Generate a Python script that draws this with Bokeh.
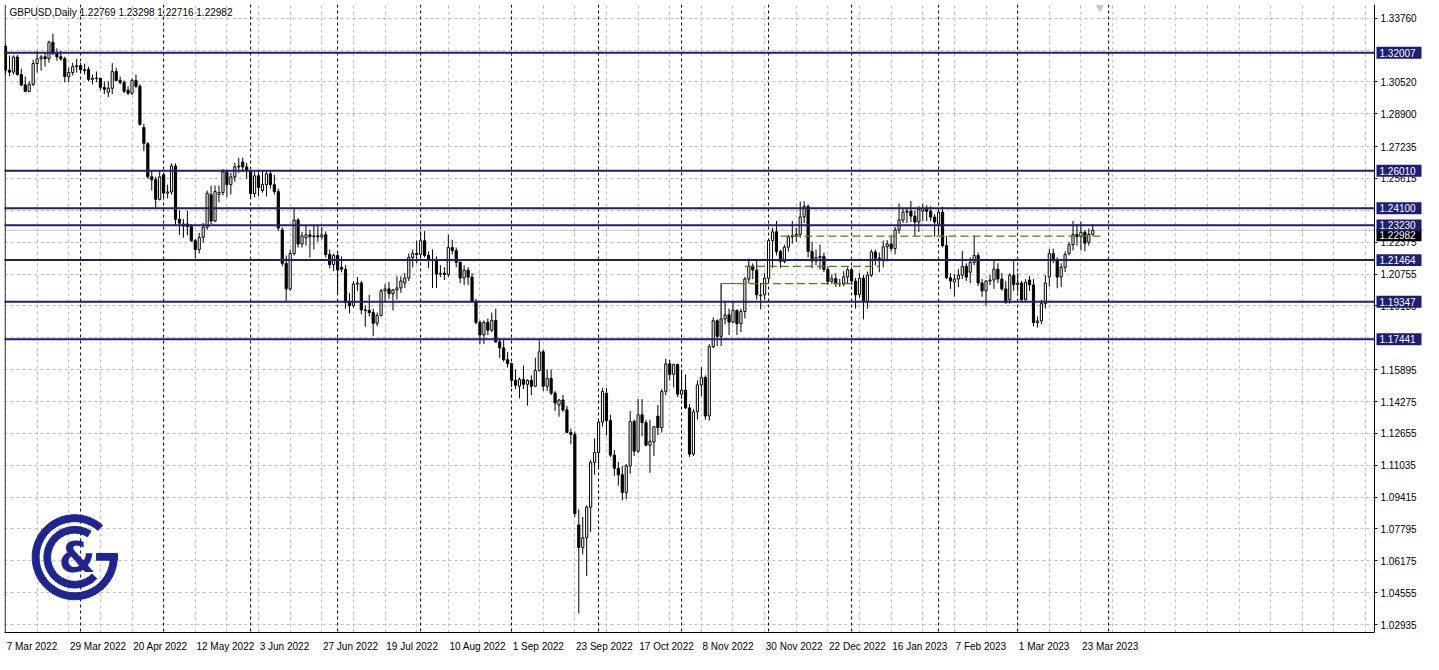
import math
from bokeh.plotting import figure
from bokeh.models import Range1d, FixedTicker, Span, Label, ColumnDataSource, NumeralTickFormatter
from bokeh.embed import file_html
from bokeh.resources import INLINE
from bokeh.core.properties import value

# ---------------- data (GBPUSD daily, 7 Mar 2022 .. 28 Mar 2023) ----------------
open_ = [
1.3234,1.3112,1.3102,1.3179,1.3090,1.3037,1.3004,1.3040,1.3146,1.3170,
1.3180,1.3170,1.3254,1.3196,1.3180,1.3170,1.3080,1.3100,1.3130,1.3135,
1.3110,1.3115,1.3065,1.3072,1.3070,1.3025,1.3000,1.3020,1.3105,1.3060,
1.3050,1.3010,1.2995,1.3060,1.3030,1.2820,1.2738,1.2570,1.2555,1.2455,
1.2580,1.2487,1.2493,1.2625,1.2354,1.2320,1.2330,1.2317,1.2245,1.2200,
1.2262,1.2314,1.2480,1.2345,1.2480,1.2490,1.2595,1.2530,1.2570,1.2620,
1.2645,1.2620,1.2600,1.2485,1.2575,1.2500,1.2530,1.2585,1.2530,1.2495,
1.2300,1.2130,1.2000,1.2180,1.2350,1.2228,1.2260,1.2275,1.2265,1.2270,
1.2265,1.2275,1.2175,1.2123,1.2170,1.2110,1.2100,1.1930,1.1915,1.2025,
1.2030,1.1893,1.1890,1.1880,1.1825,1.1865,1.1990,1.2000,1.1975,1.1995,
1.2005,1.2030,1.2055,1.2160,1.2180,1.2175,1.2245,1.2170,1.2145,1.2150,
1.2075,1.2080,1.2073,1.2210,1.2195,1.2135,1.2055,1.2095,1.2060,1.1937,
1.1830,1.1766,1.1830,1.1790,1.1840,1.1731,1.1700,1.1640,1.1620,1.1535,
1.1505,1.1540,1.1515,1.1535,1.1505,1.1585,1.1680,1.1505,1.1545,1.1470,
1.1410,1.1435,1.1385,1.1270,1.1260,1.0800,1.0685,1.0735,1.0890,1.1118,
1.1168,1.1323,1.1470,1.1330,1.1155,1.1088,1.1055,1.0965,1.1100,1.1326,
1.1175,1.1360,1.1320,1.1205,1.1222,1.1353,1.1294,1.1478,1.1619,1.1565,
1.1615,1.1465,1.1485,1.1395,1.1160,1.1375,1.1512,1.1550,1.1354,1.1706,
1.1838,1.1758,1.1848,1.1868,1.1831,1.1891,1.1823,1.1885,1.2050,1.2116,
1.2096,1.1965,1.1970,1.2054,1.2245,1.2290,1.2190,1.2140,1.2212,1.2265,
1.2270,1.2277,1.2366,1.2419,1.2190,1.2142,1.2159,1.2165,1.2099,1.2038,
1.2052,1.2027,1.2025,1.2061,1.2097,1.2040,1.1970,1.2055,1.1937,1.2070,
1.2188,1.2156,1.2150,1.2214,1.2228,1.2205,1.2300,1.2350,1.2390,1.2395,
1.2370,1.2340,1.2395,1.2410,1.2395,1.2365,1.2330,1.2390,1.2220,1.2056,
1.2035,1.2050,1.2070,1.2115,1.2085,1.2135,1.2170,1.2030,1.1990,1.2040,
1.2045,1.2100,1.2050,1.2000,1.1945,1.2069,1.2022,1.2030,1.1945,1.2045,
1.2020,1.1828,1.1837,1.1925,1.2060,1.2180,1.2150,1.2060,1.2110,1.2180,
1.2225,1.2277,1.2265,1.2288,1.2237,1.22769]

high = [
1.3243,1.3187,1.3187,1.3190,1.3120,1.3080,1.3055,1.3165,1.3210,1.3190,
1.3200,1.3262,1.3298,1.3223,1.3210,1.3180,1.3125,1.3150,1.3170,1.3150,
1.3145,1.3130,1.3090,1.3105,1.3075,1.3055,1.3055,1.3148,1.3125,1.3080,
1.3060,1.3030,1.3070,1.3090,1.3040,1.2840,1.2745,1.2600,1.2570,1.2600,
1.2590,1.2530,1.2638,1.2638,1.2400,1.2355,1.2398,1.2330,1.2255,1.2285,
1.2335,1.2500,1.2525,1.2525,1.2525,1.2610,1.2600,1.2590,1.2640,1.2667,
1.2667,1.2640,1.2605,1.2595,1.2600,1.2600,1.2600,1.2600,1.2580,1.2510,
1.2313,1.2170,1.2200,1.2406,1.2360,1.2290,1.2320,1.2300,1.2320,1.2325,
1.2315,1.2292,1.2200,1.2180,1.2185,1.2165,1.2120,1.1980,1.2040,1.2060,
1.2040,1.1915,1.1970,1.1900,1.1880,1.2000,1.2025,1.2035,1.2000,1.2065,
1.2065,1.2080,1.2180,1.2200,1.2245,1.2293,1.2294,1.2190,1.2200,1.2165,
1.2120,1.2110,1.2276,1.2250,1.2210,1.2140,1.2120,1.2110,1.2080,1.1950,
1.1840,1.1840,1.1850,1.1880,1.1900,1.1750,1.1740,1.1680,1.1625,1.1590,
1.1550,1.1610,1.1540,1.1560,1.1650,1.1738,1.1690,1.1590,1.1590,1.1480,
1.1440,1.1460,1.1405,1.1290,1.1275,1.0880,1.0840,1.0900,1.1130,1.1240,
1.1330,1.1496,1.1495,1.1360,1.1180,1.1120,1.1100,1.1110,1.1380,1.1335,
1.1440,1.1440,1.1335,1.1335,1.1300,1.1410,1.1490,1.1645,1.1640,1.1620,
1.1620,1.1590,1.1565,1.1415,1.1390,1.1535,1.1602,1.1560,1.1720,1.1855,
1.1845,1.2029,1.1940,1.1900,1.1935,1.1895,1.1900,1.2060,1.2154,1.2130,
1.2150,1.2030,1.2080,1.2256,1.2310,1.2345,1.2200,1.2225,1.2275,1.2345,
1.2310,1.2444,1.2446,1.2430,1.2240,1.2200,1.2225,1.2185,1.2115,1.2075,
1.2080,1.2050,1.2090,1.2110,1.2110,1.2055,1.2080,1.2070,1.2088,1.2200,
1.2200,1.2185,1.2245,1.2248,1.2270,1.2315,1.2435,1.2410,1.2410,1.2447,
1.2400,1.2420,1.2433,1.2425,1.2420,1.2380,1.2400,1.2418,1.2270,1.2080,
1.2075,1.2100,1.2193,1.2130,1.2160,1.2270,1.2185,1.2050,1.2045,1.2070,
1.2145,1.2130,1.2080,1.2040,1.2080,1.2145,1.2080,1.2040,1.2050,1.2065,
1.2050,1.1860,1.1945,1.2070,1.2204,1.2205,1.2160,1.2130,1.2190,1.2240,
1.2345,1.2330,1.2343,1.2298,1.2307,1.23298]

low = [
1.3087,1.3083,1.3090,1.3084,1.3030,1.3000,1.3000,1.3030,1.3100,1.3110,
1.3130,1.3150,1.3190,1.3160,1.3160,1.3050,1.3050,1.3085,1.3100,1.3095,
1.3090,1.3055,1.3040,1.3050,1.3010,1.2990,1.2975,1.2990,1.3055,1.3040,
1.2995,1.2985,1.2985,1.3020,1.2830,1.2700,1.2560,1.2500,1.2411,1.2450,
1.2466,1.2460,1.2480,1.2325,1.2275,1.2260,1.2273,1.2240,1.2155,1.2180,
1.2235,1.2300,1.2330,1.2340,1.2440,1.2475,1.2465,1.2480,1.2545,1.2590,
1.2595,1.2560,1.2460,1.2465,1.2470,1.2490,1.2470,1.2510,1.2480,1.2295,
1.2115,1.1934,1.1990,1.2170,1.2210,1.2210,1.2220,1.2160,1.2200,1.2240,
1.2250,1.2160,1.2105,1.2090,1.1976,1.2085,1.1900,1.1875,1.1905,1.1990,
1.1870,1.1808,1.1860,1.1760,1.1810,1.1860,1.1930,1.1950,1.1890,1.1945,
1.1980,1.2005,1.2040,1.2110,1.2130,1.2160,1.2160,1.2105,1.2004,1.2005,
1.2060,1.2045,1.2060,1.2175,1.2110,1.2030,1.2020,1.2020,1.1930,1.1820,
1.1718,1.1720,1.1765,1.1780,1.1725,1.1650,1.1630,1.1600,1.1500,1.1490,
1.1444,1.1490,1.1406,1.1460,1.1500,1.1580,1.1480,1.1480,1.1460,1.1380,
1.1350,1.1375,1.1265,1.1210,1.0840,1.0350,1.0650,1.0540,1.0765,1.1055,
1.1085,1.1300,1.1255,1.1145,1.1050,1.1000,1.0925,1.0930,1.1060,1.1150,
1.1165,1.1250,1.1200,1.1065,1.1150,1.1257,1.1270,1.1460,1.1535,1.1500,
1.1450,1.1440,1.1390,1.1145,1.1150,1.1335,1.1455,1.1335,1.1330,1.1700,
1.1710,1.1710,1.1820,1.1765,1.1825,1.1765,1.1780,1.1850,1.2030,1.2050,
1.1945,1.1896,1.1945,1.2030,1.2107,1.2170,1.2107,1.2130,1.2190,1.2230,
1.2240,1.2260,1.2335,1.2160,1.2105,1.2120,1.2100,1.2085,1.2020,1.2025,
1.2010,1.2010,1.2015,1.2025,1.2020,1.1900,1.1955,1.1845,1.1900,1.2060,
1.2120,1.2085,1.2110,1.2140,1.2190,1.2175,1.2280,1.2335,1.2335,1.2340,
1.2265,1.2290,1.2345,1.2345,1.2345,1.2265,1.2285,1.2210,1.2050,1.2000,
1.1961,1.2010,1.2050,1.2040,1.2030,1.2120,1.2015,1.1960,1.1915,1.2020,
1.2000,1.2030,1.1990,1.1925,1.1925,1.1990,1.1985,1.1940,1.1940,1.1990,
1.1810,1.1803,1.1820,1.1900,1.2011,1.2130,1.2003,1.2010,1.2085,1.2170,
1.2195,1.2220,1.2195,1.2191,1.2220,1.22716]

close = [
1.3112,1.3102,1.3179,1.3090,1.3037,1.3004,1.3040,1.3146,1.3170,1.3180,
1.3170,1.3254,1.3196,1.3180,1.3170,1.3080,1.3100,1.3130,1.3135,1.3115,
1.3115,1.3065,1.3072,1.3070,1.3025,1.3015,1.3020,1.3105,1.3060,1.3050,
1.3005,1.2995,1.3060,1.3030,1.2836,1.2740,1.2570,1.2555,1.2455,1.2570,
1.2487,1.2493,1.2625,1.2354,1.2334,1.2330,1.2317,1.2245,1.2200,1.2262,
1.2314,1.2486,1.2345,1.2495,1.2490,1.2595,1.2530,1.2570,1.2620,1.2625,
1.2620,1.2600,1.2485,1.2575,1.2515,1.2530,1.2585,1.2530,1.2495,1.2310,
1.2130,1.2000,1.2180,1.2350,1.2228,1.2270,1.2275,1.2265,1.2270,1.2265,
1.2275,1.2175,1.2123,1.2170,1.2096,1.2100,1.1930,1.1915,1.2025,1.2030,
1.1893,1.1890,1.1880,1.1825,1.1865,1.1990,1.2000,1.1975,1.1995,1.2005,
1.2040,1.2055,1.2160,1.2180,1.2175,1.2245,1.2170,1.2145,1.2150,1.2075,
1.2080,1.2073,1.2210,1.2195,1.2135,1.2055,1.2095,1.2060,1.1937,1.1830,
1.1766,1.1830,1.1790,1.1840,1.1731,1.1700,1.1640,1.1620,1.1535,1.1510,
1.1540,1.1515,1.1535,1.1505,1.1585,1.1680,1.1505,1.1545,1.1470,1.1420,
1.1435,1.1385,1.1270,1.1260,1.0858,1.0685,1.0735,1.0890,1.1118,1.1168,
1.1323,1.1479,1.1330,1.1155,1.1088,1.1055,1.0965,1.1100,1.1326,1.1175,
1.1360,1.1320,1.1205,1.1225,1.1300,1.1294,1.1478,1.1619,1.1565,1.1615,
1.1465,1.1485,1.1395,1.1160,1.1375,1.1512,1.1550,1.1354,1.1706,1.1838,
1.1758,1.1848,1.1868,1.1831,1.1891,1.1823,1.1885,1.2050,1.2116,1.2096,
1.1970,1.1968,1.2054,1.2245,1.2290,1.2190,1.2140,1.2212,1.2265,1.2270,
1.2277,1.2366,1.2419,1.2190,1.2142,1.2159,1.2165,1.2099,1.2038,1.2052,
1.2027,1.2025,1.2061,1.2097,1.2040,1.1970,1.2055,1.1937,1.2070,1.2188,
1.2156,1.2150,1.2214,1.2228,1.2205,1.2300,1.2350,1.2390,1.2395,1.2370,
1.2340,1.2405,1.2410,1.2395,1.2365,1.2340,1.2390,1.2220,1.2056,1.2040,
1.2050,1.2070,1.2115,1.2060,1.2135,1.2170,1.2030,1.1990,1.2040,1.2045,
1.2100,1.2050,1.2000,1.1930,1.2069,1.2022,1.2030,1.1945,1.2035,1.2020,
1.1828,1.1837,1.1925,1.2030,1.2180,1.2150,1.2060,1.2110,1.2175,1.2225,
1.2277,1.2265,1.2288,1.2232,1.2277,1.22982]

date_labels = ["7 Mar 2022", "29 Mar 2022", "20 Apr 2022", "12 May 2022", "3 Jun 2022",
               "27 Jun 2022", "19 Jul 2022", "10 Aug 2022", "1 Sep 2022", "23 Sep 2022",
               "17 Oct 2022", "8 Nov 2022", "30 Nov 2022", "22 Dec 2022", "16 Jan 2023",
               "7 Feb 2023", "1 Mar 2023", "23 Mar 2023"]
date_label_bars = [0, 16, 32, 48, 64, 80, 96, 112, 128, 144, 160, 176, 192, 208, 224, 240, 256, 272]
month_start_bars = [19, 40, 62, 84, 105, 128, 150, 171, 193, 214, 236, 256, 279]
grid_bars = list(range(0, 345, 8))

price_grid = [1.33760, 1.32140, 1.30520, 1.28900, 1.27235, 1.25615, 1.23995, 1.22375, 1.20755,
              1.19135, 1.17515, 1.15895, 1.14275, 1.12655, 1.11035, 1.09415, 1.07795, 1.06175,
              1.04555, 1.02935]
price_labels = [1.33760, 1.30520, 1.28900, 1.27235, 1.25615, 1.22375, 1.20755, 1.19135,
                1.15895, 1.14275, 1.12655, 1.11035, 1.09415, 1.07795, 1.06175, 1.04555, 1.02935]

levels = [1.32007, 1.26010, 1.24100, 1.23230, 1.21464, 1.19347, 1.17441]
level_texts = ["1.32007", "1.26010", "1.24100", "1.23230", "1.21464", "1.19347", "1.17441"]
bid = 1.22982
bid_text = "1.22982"

trend_y = [1.2268, 1.2115, 1.2027]
trend_x0 = [196, 187, 185]
trend_x1 = [278, 221, 215]

title_text = "GBPUSD,Daily  1.22769 1.23298 1.22716 1.22982"

# ---------------- geometry & styling ----------------
NAVY = "#1b1e72"
LOGO = "#1f2590"
GREEN = "#3a8c00"
GRID = "#c0c0c0"
FONT = "Liberation Sans"
W, H = 1423, 654
LEFT, TOP, BOTTOM = 4, 4, 18
AXIS_AREA = 49                    # pixels right of the price-axis line
frame_w = W - LEFT
frame_h = H - TOP - BOTTOM
X0, AXIS_X = -0.25, 346.25        # chart part of the x range (bars)
ppb = (frame_w - AXIS_AREA) / (AXIS_X - X0)
X1 = X0 + frame_w / ppb
Y0, Y1 = 1.02531, 1.34459
ypp = (Y1 - Y0) / frame_h

p = figure(width=W, height=H, output_backend="svg", toolbar_location=None,
           x_range=Range1d(X0, X1), y_range=Range1d(Y0, Y1), y_axis_location="right",
           min_border_left=LEFT, min_border_top=TOP, min_border_right=0,
           min_border_bottom=BOTTOM)
p.background_fill_color = "white"
p.border_fill_color = "white"
p.outline_line_color = None

# price axis (drawn at the right end of the chart area)
p.yaxis.fixed_location = AXIS_X
p.yaxis.ticker = FixedTicker(ticks=price_labels)
p.yaxis.formatter = NumeralTickFormatter(format="0.00000")
p.yaxis.major_tick_in = 0
p.yaxis.major_tick_out = 3
p.yaxis.minor_tick_line_color = None
p.yaxis.axis_line_color = "black"
p.yaxis.major_label_text_font = FONT
p.yaxis.major_label_text_font_size = "10px"
p.yaxis.major_label_text_color = "black"
p.yaxis.major_label_standoff = 3

# time axis: labels start at their bar like the terminal does
cw = {' ': 0.278, 'M': 0.833, 'a': 0.556, 'r': 0.333, 'A': 0.667, 'p': 0.556, 'y': 0.5, 'J': 0.5,
      'u': 0.556, 'n': 0.556, 'l': 0.222, 'g': 0.556, 'S': 0.667, 'e': 0.556, 'O': 0.778,
      'c': 0.5, 't': 0.278, 'N': 0.722, 'o': 0.556, 'v': 0.5, 'D': 0.722, 'F': 0.611, 'b': 0.556}
def text_w(s, px):
    return sum(cw.get(ch, 0.556) for ch in s) * px
xt = [b + text_w(t, 10) / 2 / ppb + 0.3 for b, t in zip(date_label_bars, date_labels)]
p.xaxis.ticker = FixedTicker(ticks=xt)
p.xaxis.major_label_overrides = {t: lab for t, lab in zip(xt, date_labels)}
p.xaxis.bounds = (X0, AXIS_X)
p.xaxis.major_tick_line_color = None
p.xaxis.minor_tick_line_color = None
p.xaxis.axis_line_color = "black"
p.xaxis.major_label_text_font = FONT
p.xaxis.major_label_text_font_size = "10px"
p.xaxis.major_label_text_color = "black"
p.xaxis.major_label_standoff = 2

# grids
p.ygrid.ticker = FixedTicker(ticks=price_grid)
p.ygrid.grid_line_color = GRID
p.ygrid.grid_line_dash = "3 3"
p.xgrid.ticker = FixedTicker(ticks=grid_bars)
p.xgrid.grid_line_color = GRID
p.xgrid.grid_line_dash = "3 3"

# white price-scale area (hides grid lines right of the axis)
p.quad(left=[AXIS_X], right=[X1], bottom=[Y0], top=[Y1], fill_color="white", line_color=None)
# left border of the chart window
p.add_layout(Span(location=X0 + 0.6 / ppb, dimension="height", line_color="black", line_width=1))

# month separators and bid line
for m in month_start_bars:
    p.add_layout(Span(location=m, dimension="height", line_color="black", line_dash="3 3",
                      line_width=1, level="underlay"))
bid_line = p.segment(x0=[X0], y0=[bid], x1=[AXIS_X], y1=[bid], line_color=GRID, line_width=1)
bid_line.level = "underlay"

# candles
idx = list(range(len(close)))
src = ColumnDataSource(dict(
    x=idx, h=high, l=low,
    top=[max(o, c) for o, c in zip(open_, close)],
    bottom=[min(o, c) for o, c in zip(open_, close)],
    fill=["white" if c >= o else "black" for o, c in zip(open_, close)],
))
p.segment(x0="x", y0="h", x1="x", y1="l", source=src, line_color="black", line_width=1)
p.vbar(x="x", width=0.55, top="top", bottom="bottom", fill_color="fill", line_color="black",
       line_width=1, source=src)

# green trend lines
p.segment(x0=trend_x0, y0=trend_y, x1=trend_x1, y1=trend_y, line_color=GREEN,
          line_dash="8 4", line_width=1.2)
p.segment(x0=[181, 181], y0=[1.1750, trend_y[2]], x1=[181, trend_x0[2]], y1=[trend_y[2], trend_y[2]],
          line_color="#555555", line_width=1)

# support / resistance levels (over the candles)
lv = p.segment(x0=[X0] * len(levels), y0=levels, x1=[AXIS_X] * len(levels), y1=levels,
               line_color=NAVY, line_width=2)
lv.level = "overlay"

# chart shift marker
p.scatter(x=[276.75], y=[Y1 - 3 * ypp], marker="inverted_triangle", size=7, color="#c8c8c8")

# logo
lx, ly = 17.5, 1.06357
p.annular_wedge(x=lx, y=ly, inner_radius=9.0, outer_radius=10.75,
                start_angle=math.radians(49), end_angle=math.radians(4),
                direction="anticlock", color=LOGO)
p.annular_wedge(x=lx, y=ly, inner_radius=6.1, outer_radius=7.8,
                start_angle=math.radians(58), end_angle=math.radians(316),
                direction="anticlock", color=LOGO)
p.quad(left=[23.0], right=[28.3], bottom=[1.0621], top=[1.0655], color=LOGO)
p.text(x=[18.1], y=[1.0633], text=["&"], text_font=value("DejaVu Sans"), text_font_style="bold",
       text_font_size="42px", text_align="center", text_baseline="middle", text_color=LOGO)

# title
p.add_layout(Label(x=X0 + 5 / ppb, y=Y1 - 3 * ypp, text=title_text, text_font=FONT,
                   text_font_size="10px", text_color="black", text_baseline="top"))

# price tags on the price scale: current price first, the level tags drawn over it
tag_l = AXIS_X + 2 / ppb
tag_r = AXIS_X + 47 / ppb
tag_tx = AXIS_X + 5 / ppb
tag_h = 6 * ypp
bid_tag_y = bid - 5 * ypp

def add_tags(vals, texts, fill):
    q = p.quad(left=[tag_l] * len(vals), right=[tag_r] * len(vals),
               bottom=[v - tag_h for v in vals], top=[v + tag_h for v in vals],
               fill_color=fill, line_color=None)
    q.level = "overlay"
    t = p.text(x=[tag_tx] * len(vals), y=vals, text=texts, text_font=value(FONT),
               text_font_size="10px", text_color="white", text_align="left",
               text_baseline="middle")
    t.level = "overlay"

add_tags([bid_tag_y], [bid_text], "black")
add_tags(levels, level_texts, NAVY)

open("out.html", "w").write(file_html(p, INLINE))
